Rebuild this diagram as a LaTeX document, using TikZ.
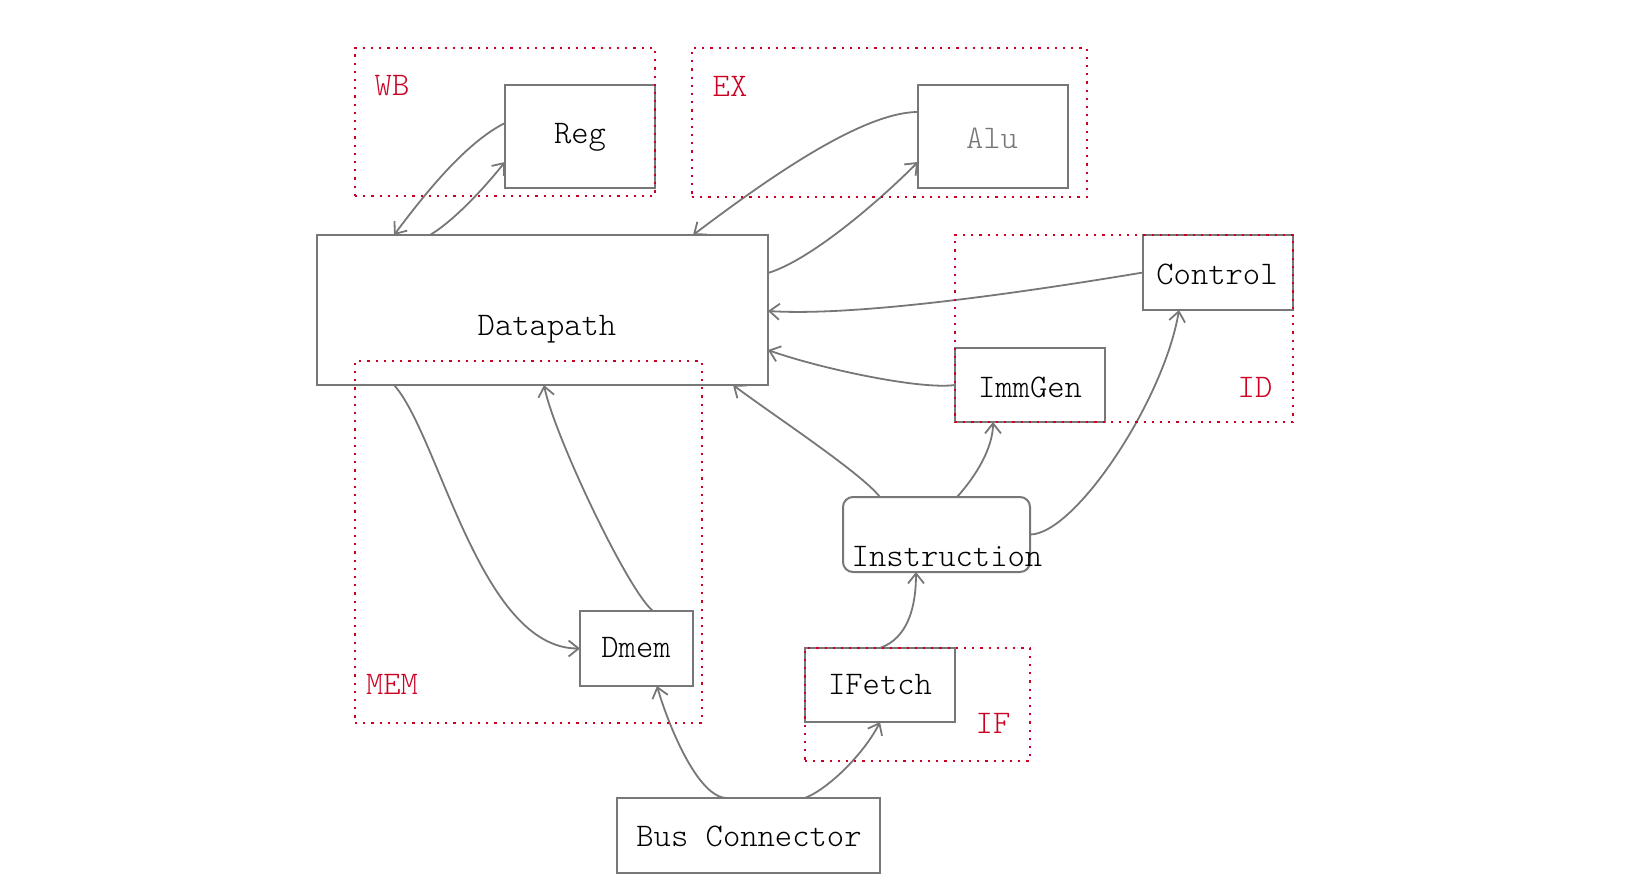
\documentclass[tikz,border=0pt]{standalone}
\usepackage{fontspec}
\newfontfamily\lightmono{Latin Modern Mono Light}
\usetikzlibrary{arrows.meta}
\definecolor{edgegrey}{RGB}{119,119,119}
\definecolor{grpred}{RGB}{204,0,34}
\begin{document}
\begin{tikzpicture}[x=1pt,y=-1pt,font=\lightmono\fontsize{33}{40}\selectfont,
  box/.style={draw=edgegrey,line width=2pt,inner sep=0pt,outer sep=0pt},
  txt/.style={inner sep=0pt,text=black},
  grp/.style={draw=grpred,line width=2.2pt,dash pattern=on 2.2pt off 6pt,inner sep=0pt,outer sep=0pt},
  lab/.style={text=grpred,inner sep=0pt},
  conn/.style={draw=edgegrey,line width=1.8pt,-{Straight Barb[length=10pt,width=16pt]}}]
\useasboundingbox (0,0) rectangle (1626,896);
% boxes
\node[box,minimum width=150pt,minimum height=103pt] (reg) at (580,136.5) {};
\node[box,minimum width=150pt,minimum height=103pt] (alu) at (993,136.5) {};
\node[box,minimum width=451pt,minimum height=150pt] (dp) at (542.5,310) {};
\node[box,minimum width=150pt,minimum height=75pt] (ctrl) at (1218,272.5) {};
\node[box,minimum width=150pt,minimum height=74pt] (imm) at (1030,385) {};
\node[box,rounded corners=10pt,minimum width=187pt,minimum height=75pt] (instr) at (936.5,534.5) {};
\node[box,minimum width=113pt,minimum height=75pt] (dmem) at (636.5,648.5) {};
\node[box,minimum width=150pt,minimum height=74pt] (ifetch) at (880,685) {};
\node[box,minimum width=263pt,minimum height=75pt] (bus) at (748.5,835.5) {};
% texts
\node[txt] (tReg) at (580,137) {Reg};
\node[txt,text=edgegrey] (tAlu) at (992,138) {Alu};
\node[txt] (tDp) at (547,329) {Datapath};
\node[txt] (tCtrl) at (1217,274) {Control};
\node[txt] (tImm) at (1030,387) {ImmGen};
\node[txt] (tInstr) at (947,557) {Instruction};
\node[txt] (tDmem) at (636,648) {Dmem};
\node[txt] (tIfetch) at (880,685) {IFetch};
\node[txt] (tBus) at (749,836) {Bus Connector};
% connectors
\draw[conn] ([yshift=13.5pt]reg.west) .. controls +(-40,20) and +(30,-40) .. ([xshift=-148.5pt]dp.north);
\draw[conn] ([xshift=-112.5pt]dp.north) .. controls +(25,-15) and +(-20,25) .. ([yshift=-25.5pt]reg.west);
\draw[conn] ([yshift=24.5pt]alu.west) .. controls +(-60,0) and +(60,-45) .. ([xshift=150.5pt]dp.north);
\draw[conn] ([yshift=37pt]dp.east) .. controls +(40,-12) and +(-45,45) .. ([yshift=-25.5pt]alu.west);
\draw[conn] (ctrl.west) .. controls +(-150,25) and +(80,5) .. ([yshift=-1pt]dp.east);
\draw[conn] (imm.west) .. controls +(-35,5) and +(50,18) .. ([yshift=-40pt]dp.east);
\draw[conn] ([xshift=-56.5pt]instr.north) .. controls +(-20,-25) and +(40,30) .. ([xshift=190.5pt]dp.south);
\draw[conn] ([xshift=20.5pt]instr.north) .. controls +(20,-22) and +(0,25) .. ([xshift=-37pt]imm.south);
\draw[conn] (instr.east) .. controls +(45,0) and +(-15,90) .. ([xshift=-39pt]ctrl.south);
\draw[conn] ([xshift=-148.5pt]dp.south) .. controls +(45,50) and +(-100,0) .. (dmem.west);
\draw[conn] ([xshift=16.5pt]dmem.north) .. controls +(-25,-20) and +(10,50) .. ([xshift=1.5pt]dp.south);
\draw[conn] (ifetch.north) .. controls +(28,-10) and +(0,35) .. ([xshift=-20.5pt]instr.south);
\draw[conn] ([xshift=-21.5pt]bus.north) .. controls +(-30,0) and +(10,35) .. ([xshift=20.5pt]dmem.south);
\draw[conn] ([xshift=56.5pt]bus.north) .. controls +(25,-10) and +(-15,30) .. (ifetch.south);
% groups
\node[grp,minimum width=300pt,minimum height=148pt] (gWB) at (505,122) {};
\node[grp,minimum width=395pt,minimum height=149pt] (gEX) at (889.5,122.5) {};
\node[grp,minimum width=338pt,minimum height=187pt] (gID) at (1124,328.5) {};
\node[grp,minimum width=347pt,minimum height=362pt] (gMEM) at (528.5,542) {};
\node[grp,minimum width=225pt,minimum height=113pt] (gIF) at (917.5,704.5) {};
\node[lab] (lWB) at (392,86) {WB};
\node[lab] (lEX) at (730,86) {EX};
\node[lab] (lID) at (1255,387) {ID};
\node[lab] (lMEM) at (392,684) {MEM};
\node[lab] (lIF) at (993,723) {IF};
\end{tikzpicture}
\end{document}
